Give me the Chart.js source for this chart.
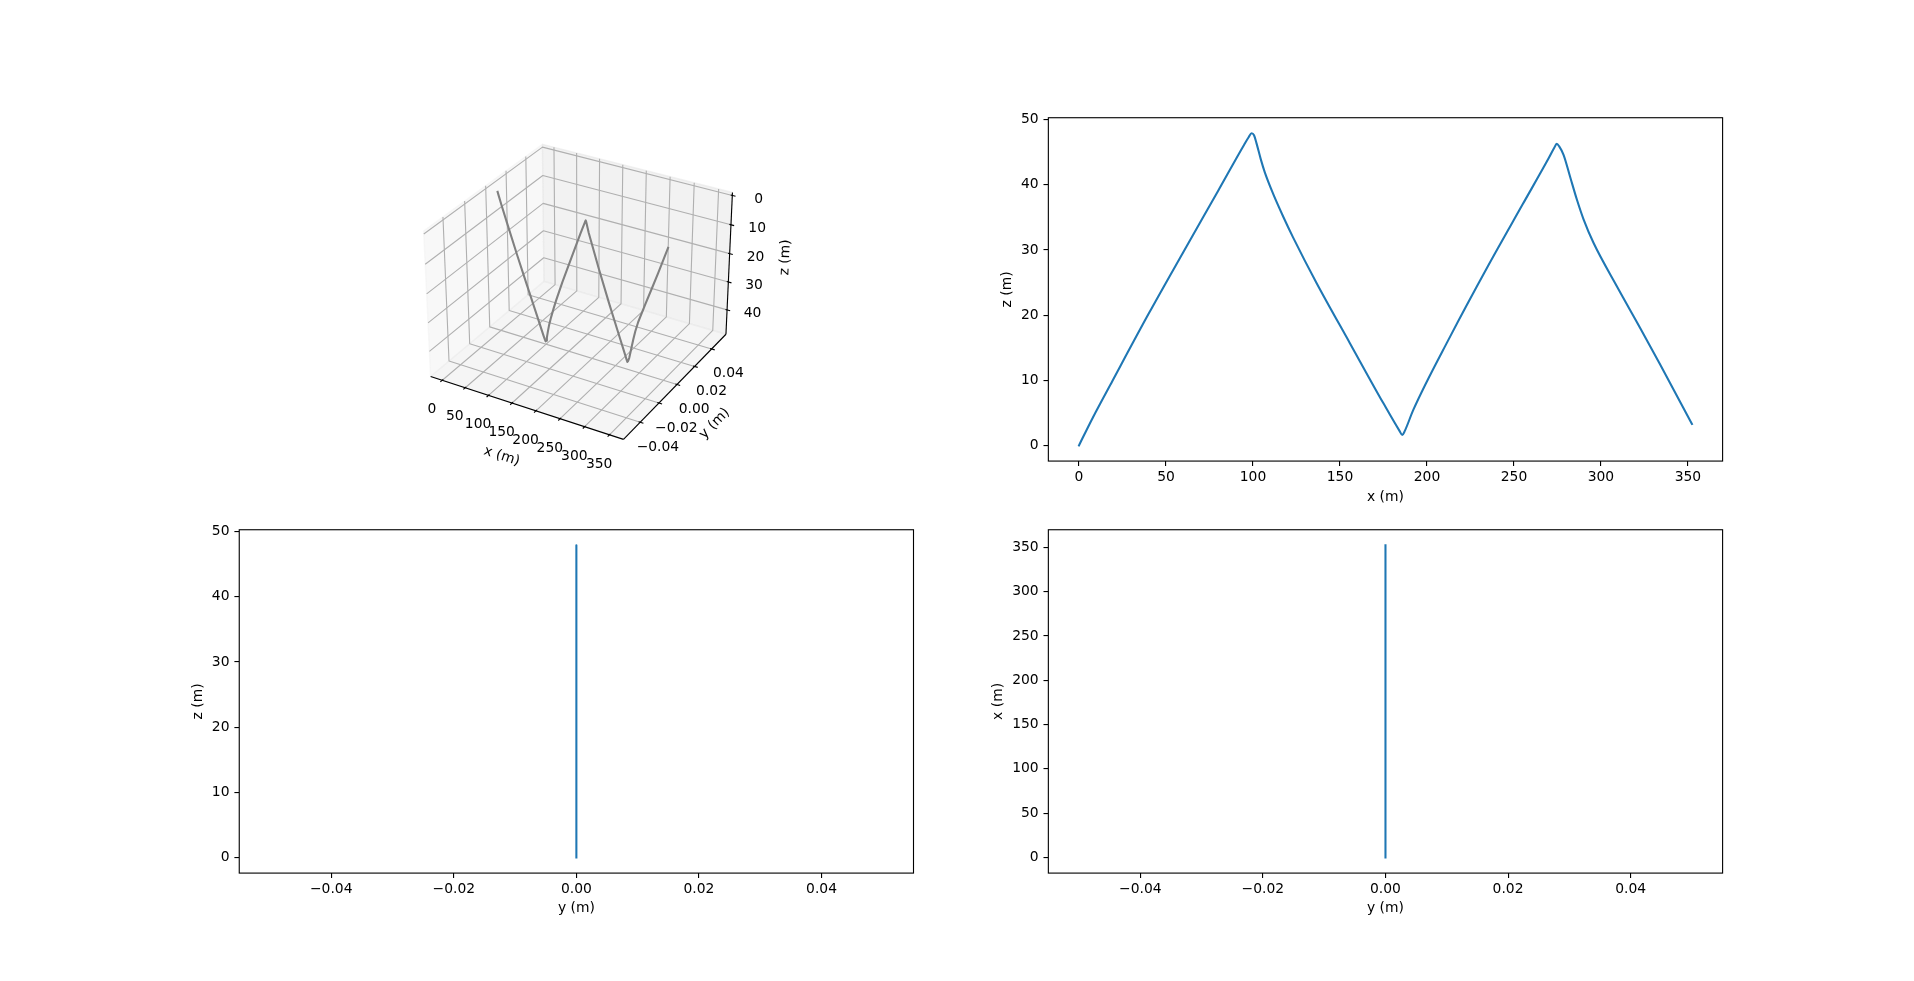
<!DOCTYPE html>
<html><head><meta charset="utf-8">
<script src="https://cdn.jsdelivr.net/npm/chart.js@4.4.1/dist/chart.umd.min.js"></script>
<style>
html,body{margin:0;padding:0;background:#fff;width:1914px;height:981px;overflow:hidden;position:relative}
canvas{position:absolute}
</style>
</head><body>
<canvas id="c3d"></canvas><canvas id="cxz"></canvas><canvas id="cyz"></canvas><canvas id="cyx"></canvas>
<script>
// ---------------- data ----------------
const xData = [0, 2, 8, 19.2, 40, 60, 80, 95, 97.5, 99.2, 100.6, 102, 104.5, 106.8, 111.6, 117.4, 123.1, 136.6, 155.7, 174.9, 184.3, 185.8, 187.2, 192.2, 213.3, 235, 255, 270, 273, 274.6, 276, 278.5, 282.3, 286.2, 290, 295.7, 309.2, 322.6, 334.1, 352.3];
const yData = [0, 0, 0, 0, 0, 0, 0, 0, 0, 0, 0, 0, 0, 0, 0, 0, 0, 0, 0, 0, 0, 0, 0, 0, 0, 0, 0, 0, 0, 0, 0, 0, 0, 0, 0, 0, 0, 0, 0, 0];
const zData = [0, 1.1, 4.3, 9.9, 20.2, 29.7, 39.1, 46.2, 47.3, 47.9, 47.6, 46.4, 43.9, 41.9, 38.6, 35.1, 31.9, 24.9, 15.7, 6.5, 2.2, 1.6, 2.2, 5.5, 16.7, 27.5, 37.0, 44.1, 45.6, 46.3, 45.9, 44.6, 41.2, 37.7, 34.7, 31.1, 24.4, 18.0, 12.4, 3.3];

const xTickValues = [0, 50, 100, 150, 200, 250, 300, 350];
const xTickLabels = ['0', '50', '100', '150', '200', '250', '300', '350'];
const zTickValues = [0, 10, 20, 30, 40, 50];
const zTickLabels = ['0', '10', '20', '30', '40', '50'];
const z3dTickValues = [0, 10, 20, 30, 40];
const z3dTickLabels = ['0', '10', '20', '30', '40'];
const yTickValues = [-0.04, -0.02, 0, 0.02, 0.04];
const yTickLabels = ['\u22120.04', '\u22120.02', '0.00', '0.02', '0.04'];

// ---------------- common styling ----------------
const FS = 13.89;
const FAM = '"DejaVu Sans", sans-serif';
Chart.defaults.font.family = FAM;
Chart.defaults.font.size = FS;
Chart.defaults.color = '#000';

function autoLim(arr) {
  let lo = Math.min(...arr), hi = Math.max(...arr);
  if (hi - lo < 1e-12) {
    if (hi === 0) { lo = -0.05; hi = 0.05; }
    else { lo -= 0.05 * Math.abs(lo); hi += 0.05 * Math.abs(hi); }
  }
  const m = (hi - lo) * 0.05;
  return [lo - m, hi + m];
}

// figure layout (subplots 2x2, default matplotlib margins)
const FIGW = 1914, FIGH = 981;
const gL = 0.125 * FIGW, gR = 0.9 * FIGW, gT = (1 - 0.88) * FIGH, gB = (1 - 0.11) * FIGH;
const axW = (gR - gL) / 2.2, axH = (gB - gT) / 2.2;
const colL = [gL, gL + 1.2 * axW], rowT = [gT, gT + 1.2 * axH];

const boxPlugin = {
  id: 'spines',
  afterDraw(chart) {
    const {ctx, chartArea: a} = chart;
    ctx.save();
    ctx.strokeStyle = '#000'; ctx.lineWidth = 1.11;
    ctx.strokeRect(a.left, a.top, a.right - a.left, a.bottom - a.top);
    ctx.restore();
  }
};

function axisCfg(kind, c, size, titlePad) {
  return {
    type: 'linear', min: c.lim[0], max: c.lim[1],
    afterBuildTicks: s => { s.ticks = c.ticks.map(v => ({value: v})); },
    afterFit: s => { if (kind === 'x') s.height = size; else s.width = size; },
    ticks: {autoSkip: false, maxRotation: 0, minRotation: 0, padding: kind === 'x' ? 3.5 : 4.86,
            color: '#000', font: {family: FAM, size: FS}, callback: (v, i) => c.labels[i]},
    grid: {display: true, drawOnChartArea: false, drawTicks: true, tickLength: 4.86, tickWidth: 1.11,
           tickColor: '#000', color: '#000', lineWidth: 1.11},
    border: {display: false},
    title: {display: true, text: c.title, color: '#000', font: {family: FAM, size: FS},
            padding: kind === 'x' ? {top: 0, bottom: titlePad} : {top: titlePad, bottom: 0}}
  };
}

function make2D(id, box, xd, yd, xc, yc, smooth) {
  const padL = 110, padT = 25, padR = 30, padB = 75;
  const cl = Math.floor(box.L) - padL, ct = Math.floor(box.T) - padT;
  const cr = Math.ceil(box.R) + padR, cb = Math.ceil(box.B) + padB;
  const cv = document.getElementById(id);
  cv.width = cr - cl; cv.height = cb - ct;
  cv.style.left = cl + 'px'; cv.style.top = ct + 'px';
  cv.style.width = (cr - cl) + 'px'; cv.style.height = (cb - ct) + 'px';
  const lh = FS * 1.2;
  const ds = {data: xd.map((v, i) => ({x: v, y: yd[i]})), showLine: true,
      borderColor: '#1f77b4', backgroundColor: '#1f77b4', borderWidth: 2.08, pointRadius: 0,
      borderCapStyle: 'square', borderJoinStyle: 'round', tension: 0};
  if (smooth) ds.cubicInterpolationMode = 'monotone';
  new Chart(cv, {
    type: 'scatter',
    data: {datasets: [ds]},
    options: {
      responsive: false, devicePixelRatio: 1, animation: false, events: [],
      layout: {padding: {left: 0, top: box.T - ct, right: cr - box.R, bottom: 0}},
      plugins: {legend: {display: false}, tooltip: {enabled: false}},
      scales: {
        x: axisCfg('x', xc, cb - box.B, cb - xc.titleY - lh / 2),
        y: axisCfg('y', yc, box.L - cl, yc.titleX - cl - lh / 2)
      }
    },
    plugins: [boxPlugin]
  });
}

const yLim = autoLim(yData), xLim = autoLim(xData), zLim = autoLim(zData);

// top-right: z vs x
make2D('cxz', {L: colL[1], R: colL[1] + axW, T: rowT[0], B: rowT[0] + axH}, xData, zData,
  {lim: xLim, ticks: xTickValues, labels: xTickLabels, title: 'x (m)', titleY: rowT[0] + axH + 36.2},
  {lim: zLim, ticks: zTickValues, labels: zTickLabels, title: 'z (m)', titleX: 1007.5}, true);
// bottom-left: z vs y
make2D('cyz', {L: colL[0], R: colL[0] + axW, T: rowT[1], B: rowT[1] + axH}, yData, zData,
  {lim: yLim, ticks: yTickValues, labels: yTickLabels, title: 'y (m)', titleY: rowT[1] + axH + 35.5},
  {lim: zLim, ticks: zTickValues, labels: zTickLabels, title: 'z (m)', titleX: 198.3}, false);
// bottom-right: x vs y
make2D('cyx', {L: colL[1], R: colL[1] + axW, T: rowT[1], B: rowT[1] + axH}, yData, xData,
  {lim: yLim, ticks: yTickValues, labels: yTickLabels, title: 'y (m)', titleY: rowT[1] + axH + 35.5},
  {lim: xLim, ticks: xTickValues, labels: xTickLabels, title: 'x (m)', titleX: 998.8}, false);

// ---------------- 3D panel (matplotlib-like perspective projection) ----------------
function norm(v) { const n = Math.hypot(...v); return v.map(a => a / n); }
function cross(a, b) { return [a[1]*b[2]-a[2]*b[1], a[2]*b[0]-a[0]*b[2], a[0]*b[1]-a[1]*b[0]]; }
function dot(a, b) { return a[0]*b[0] + a[1]*b[1] + a[2]*b[2]; }

const VIEW = (() => {
  const asp0 = [4, 4, 3], an = Math.hypot(...asp0);
  const aspect = asp0.map(a => a * 1.8294640721620434 / an);
  const Rc = aspect.map(a => a / 2);
  const el = 30 * Math.PI / 180, az = -60 * Math.PI / 180, dist = 10;
  const ps = [Math.cos(el) * Math.cos(az), Math.cos(el) * Math.sin(az), Math.sin(el)];
  const eye = Rc.map((r, i) => r + dist * ps[i]);
  const w = norm(eye.map((e, i) => e - Rc[i]));
  const u = norm(cross([0, 0, 1], w));
  const v = cross(w, u);
  return {aspect, eye, u, v, w, dist, focal: 1};
})();

// 3D limits: x,y autoscaled; z inverted (0 at top)
const L3 = [autoLim(xData), autoLim(yData), [Math.max(...zData), 0]];
const TICKS3 = [
  {v: xTickValues, l: xTickLabels},
  {v: yTickValues, l: yTickLabels},
  {v: z3dTickValues, l: z3dTickLabels}
];

function proj3(p) {
  const wd = [0, 1, 2].map(i => (p[i] - L3[i][0]) / (L3[i][1] - L3[i][0]) * VIEW.aspect[i]);
  const d = wd.map((a, i) => a - VIEW.eye[i]);
  const vx = dot(VIEW.u, d), vy = dot(VIEW.v, d), vz = dot(VIEW.w, d);
  const W = -vz;
  return [VIEW.focal * vx / W, VIEW.focal * vy / W, -VIEW.dist / W];
}

const PANE_COLORS = ['rgba(242,242,242,0.5)', 'rgba(230,230,230,0.5)', 'rgba(236,236,236,0.5)'];
const AX3_LABELS = ['x (m)', 'y (m)', 'z (m)'];
const box3 = {L: colL[0] + (axW - axH) / 2, R: colL[0] + (axW + axH) / 2, T: rowT[0], B: rowT[0] + axH};

const axes3dPlugin = {
  id: 'axes3d',
  beforeDatasetsDraw(chart) {
    const ctx = chart.ctx, X = chart.scales.x, Y = chart.scales.y;
    const toPx = p => { const q = proj3(p); return [X.getPixelForValue(q[0]), Y.getPixelForValue(q[1])]; };
    const lo = L3.map(l => Math.min(...l)), hi = L3.map(l => Math.max(...l));
    const centers = lo.map((a, i) => (a + hi[i]) / 2);
    const deltas = lo.map((a, i) => (hi[i] - a) / 12);
    const mins = lo.map((a, i) => a - deltas[i] / 4), maxs = hi.map((a, i) => a + deltas[i] / 4);
    const highs = [0, 1, 2].map(i => {
      const j = (i + 1) % 3, k = (i + 2) % 3;
      const mean = val => { let s = 0;
        for (const a of [mins[j], maxs[j]]) for (const b of [mins[k], maxs[k]]) {
          const p = [0, 0, 0]; p[i] = val; p[j] = a; p[k] = b; s += proj3(p)[2]; }
        return s / 4; };
      return mean(mins[i]) < mean(maxs[i]);
    });
    const minmax = highs.map((h, i) => h ? maxs[i] : mins[i]);
    const maxmin = highs.map((h, i) => h ? mins[i] : maxs[i]);
    const line = (pts, col, lw) => {
      ctx.beginPath(); pts.forEach((p, n) => { const q = toPx(p); n ? ctx.lineTo(q[0], q[1]) : ctx.moveTo(q[0], q[1]); });
      ctx.strokeStyle = col; ctx.lineWidth = lw; ctx.stroke();
    };
    ctx.save();
    ctx.lineCap = 'butt'; ctx.lineJoin = 'round';
    // panes
    for (let i = 0; i < 3; i++) {
      const j = (i + 1) % 3, k = (i + 2) % 3;
      const pts = [[mins[j], mins[k]], [maxs[j], mins[k]], [maxs[j], maxs[k]], [mins[j], maxs[k]]].map(([a, b]) => {
        const p = [0, 0, 0]; p[i] = minmax[i]; p[j] = a; p[k] = b; return toPx(p); });
      ctx.beginPath(); pts.forEach((q, n) => n ? ctx.lineTo(q[0], q[1]) : ctx.moveTo(q[0], q[1])); ctx.closePath();
      ctx.fillStyle = PANE_COLORS[i]; ctx.fill();
      ctx.strokeStyle = PANE_COLORS[i]; ctx.lineWidth = 1.39; ctx.stroke();
    }
    // grid
    for (let i = 0; i < 3; i++) {
      TICKS3[i].v.forEach(t => {
        if (t < lo[i] || t > hi[i]) return;
        const p0 = minmax.slice(); p0[i] = t;
        const a = p0.slice(); a[(i + 1) % 3] = maxmin[(i + 1) % 3];
        const c = p0.slice(); c[(i + 2) % 3] = maxmin[(i + 2) % 3];
        line([a, p0, c], '#b0b0b0', 1.11);
      });
    }
    // axis lines, ticks, labels
    const JUG = [[1, 0, 2], [0, 1, 2], [0, 2, 1]], TDIR = [1, 0, 0];
    const dpp = 48 / (72 * 2 * (box3.R - box3.L) / 100);
    ctx.font = FS + 'px ' + FAM; ctx.fillStyle = '#000';
    for (let i = 0; i < 3; i++) {
      const e1 = minmax.slice(); e1[JUG[i][0]] = maxmin[JUG[i][0]];
      const e2 = e1.slice(); e2[JUG[i][1]] = maxmin[JUG[i][1]];
      line([e1, e2], '#000', 1.11);
      const td = TDIR[i], sign = highs[td] ? 1 : -1, tdel = deltas[td];
      TICKS3[i].v.forEach((t, n) => {
        if (t < lo[i] || t > hi[i]) return;
        const pos = e1.slice(); pos[i] = t;
        const p1 = pos.slice(); p1[td] = e1[td] + 0.1 * sign * tdel;
        const p2 = pos.slice(); p2[td] = e1[td] - 0.2 * sign * tdel;
        line([p1, p2], '#000', 1.11);
        const lp = pos.slice();
        for (let d = 0; d < 3; d++) if (d !== i) lp[d] += (3.5 + 8) * dpp * deltas[d] * (lp[d] - centers[d] >= 0 ? 1 : -1);
        const q = toPx(lp);
        ctx.textAlign = 'center'; ctx.textBaseline = 'alphabetic';
        ctx.fillText(TICKS3[i].l[n], q[0], q[1] + 0.76 * FS);
      });
      const mid = e1.map((a, d) => (a + e2[d]) / 2);
      for (let d = 0; d < 3; d++) if (d !== i) mid[d] += (4 + 21) * dpp * deltas[d] * (mid[d] - centers[d] >= 0 ? 1 : -1);
      const q1 = proj3(e1), q2 = proj3(e2);
      let ang = Math.atan2(q2[1] - q1[1], q2[0] - q1[0]) * 180 / Math.PI;
      ang = (((ang + 180) % 180) + 180) % 180; if (ang > 90) ang -= 180;
      const qm = toPx(mid);
      ctx.save(); ctx.translate(qm[0], qm[1]); ctx.rotate(-ang * Math.PI / 180);
      ctx.textAlign = 'center'; ctx.textBaseline = 'alphabetic';
      ctx.fillText(AX3_LABELS[i], 0, 3.84);
      ctx.restore();
    }
    ctx.restore();
  }
};

(function make3D() {
  const cl = 330, ct = 95, cr = 840, cb = 505;
  const cv = document.getElementById('c3d');
  cv.width = cr - cl; cv.height = cb - ct;
  cv.style.left = cl + 'px'; cv.style.top = ct + 'px';
  cv.style.width = (cr - cl) + 'px'; cv.style.height = (cb - ct) + 'px';
  const pts = xData.map((x, i) => { const q = proj3([x, yData[i], zData[i]]); return {x: q[0], y: q[1]}; });
  new Chart(cv, {
    type: 'scatter',
    data: {datasets: [{data: pts, showLine: true, borderColor: '#808080', backgroundColor: '#808080',
      borderWidth: 2.08, pointRadius: 0, borderCapStyle: 'square', borderJoinStyle: 'round', clip: false}]},
    options: {
      responsive: false, devicePixelRatio: 1, animation: false, events: [],
      layout: {padding: {left: box3.L - cl, right: cr - box3.R, top: box3.T - ct, bottom: cb - box3.B}},
      plugins: {legend: {display: false}, tooltip: {enabled: false}},
      scales: {
        x: {type: 'linear', display: false, min: -0.095, max: 0.09},
        y: {type: 'linear', display: false, min: -0.095, max: 0.09}
      }
    },
    plugins: [axes3dPlugin]
  });
})();
</script>
</body></html>
